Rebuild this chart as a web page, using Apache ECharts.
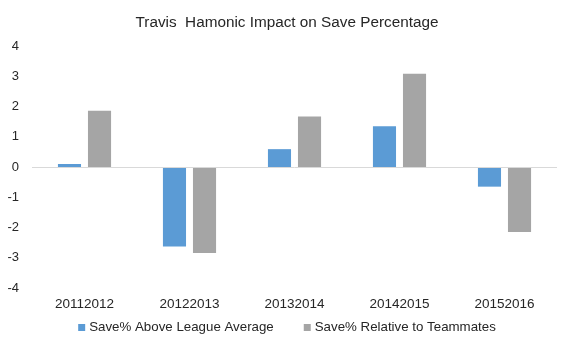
<!DOCTYPE html>
<html><head><meta charset="utf-8">
<script src="https://cdn.jsdelivr.net/npm/echarts@6/dist/echarts.min.js"></script>
<style>html,body{margin:0;padding:0;background:#fff}#c{width:574px;height:351px}</style>
</head><body><div id="c"></div>
<script>
const categories = ['20112012','20122013','20132014','20142015','20152016'];
const aboveLeague = [0.1, -2.63, 0.59, 1.35, -0.65];
const relTeammates = [1.86, -2.84, 1.67, 3.08, -2.15];
const yTicks = [-4, 4, 1];

const chart = echarts.init(document.getElementById('c'));
const font = 'Liberation Sans, Arial, sans-serif';
chart.setOption({
  animation: false,
  title: { text: 'Travis  Hamonic Impact on Save Percentage', left: 'center', top: 10,
    textStyle: { fontFamily: font, fontSize: 15.3, fontWeight: 'normal', color: '#262626' } },
  grid: { left: 32, right: 17, top: 46, bottom: 63 },
  legend: { bottom: 12, left: 'center', itemWidth: 7, itemHeight: 7, itemGap: 30,
    icon: 'rect',
    textStyle: { fontFamily: font, fontSize: 13.3, color: '#262626', padding: [0,0,0,-1] },
    data: ['Save% Above League Average', 'Save% Relative to Teammates'] },
  xAxis: { type: 'category', data: categories,
    axisLine: { show: false, onZero: false }, axisTick: { show: false },
    axisLabel: { margin: 9, fontFamily: font, fontSize: 13.5, color: '#262626' } },
  yAxis: { type: 'value', min: yTicks[0], max: yTicks[1], interval: yTicks[2],
    splitLine: { show: false }, axisLine: { show: false }, axisTick: { show: false },
    axisLabel: { margin: 13, fontFamily: font, fontSize: 13, color: '#262626' } },
  series: [
    { name: 'Save% Above League Average', type: 'bar', data: aboveLeague,
      barWidth: '22%', barGap: '30%', itemStyle: { color: '#5B9BD5' },
      markLine: { silent: true, symbol: 'none', label: { show: false },
        lineStyle: { color: '#d9d9d9', type: 'solid', width: 1 }, data: [{ yAxis: 0 }] } },
    { name: 'Save% Relative to Teammates', type: 'bar', data: relTeammates,
      barWidth: '22%', itemStyle: { color: '#A5A5A5' } }
  ]
});
</script></body></html>
